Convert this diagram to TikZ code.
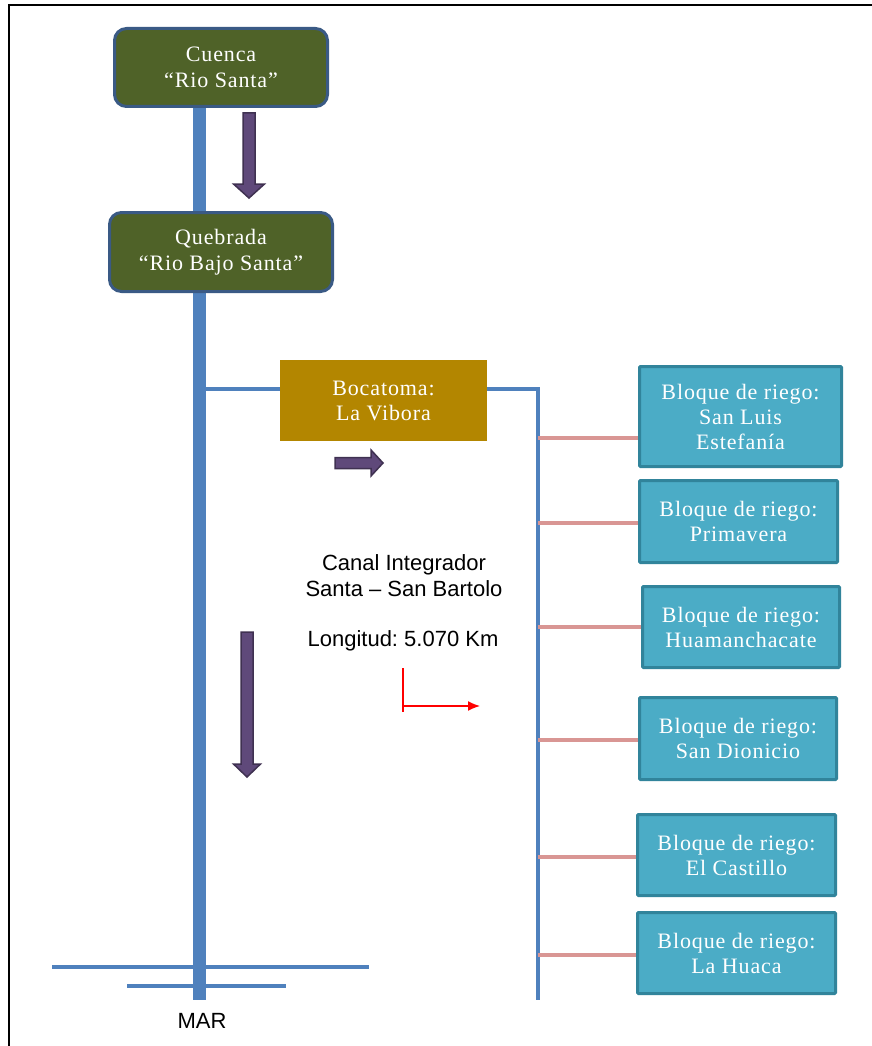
\documentclass[tikz,border=0pt]{standalone}
\usepackage{fontspec}
\usetikzlibrary{arrows.meta}
\setmainfont[LetterSpace=4]{Liberation Serif}
\newfontfamily\arialf{Liberation Sans}
\frenchspacing
\definecolor{greenfill}{HTML}{4F6228}
\definecolor{greenedge}{HTML}{3A5A85}
\definecolor{gold}{HTML}{B38600}
\definecolor{teal}{HTML}{4BACC6}
\definecolor{tealedge}{HTML}{31849B}
\definecolor{riverblue}{HTML}{4F81BD}
\definecolor{pinkline}{HTML}{D99694}
\definecolor{purplefill}{HTML}{5F497A}
\definecolor{purpleedge}{HTML}{3F3151}
\begin{document}
\begin{tikzpicture}[x=1pt,y=-1pt,
  greenbox/.style={draw=greenedge,line width=3pt,fill=greenfill,rounded corners=12pt,text=white,align=center,
    font=\fontsize{22}{26}\selectfont,inner sep=0pt},
  goldbox/.style={fill=gold,text=white,align=center,font=\fontsize{22}{25}\selectfont,inner sep=0pt},
  tealbox/.style={draw=tealedge,line width=3pt,fill=teal,text=white,align=center,
    font=\fontsize{22}{25}\selectfont,inner sep=0pt,rounded corners=1pt},
  mainline/.style={draw=riverblue,line width=13pt},
  thinline/.style={draw=riverblue,line width=3.5pt},
  branch/.style={draw=pinkline,line width=4pt},
  bkarrow/.style={draw=purpleedge,line width=1.5pt,fill=purplefill,line join=miter},
  sanslabel/.style={font=\arialf\fontsize{22}{26}\selectfont,align=center,inner sep=0pt}]
\useasboundingbox (0,0) rectangle (872,1046);
\fill[white] (0,0) rectangle (872,1046);
% frame
\draw[line width=2pt] (9,1046) -- (9,5) -- (872,5);

% coordinates
\coordinate (mainTop) at (199,108);
\coordinate (mainBot) at (199,1000);
\coordinate (tap) at (199,389);
\coordinate (canalTop) at (538,389);
\coordinate (canalBot) at (538,1000);
\coordinate (p1) at (538,438);
\coordinate (p2) at (538,523);
\coordinate (p3) at (538,627);
\coordinate (p4) at (538,740);
\coordinate (p5) at (538,857);
\coordinate (p6) at (538,955);

% main river
\draw[mainline] (mainTop) -- (mainBot);
% sea lines
\coordinate (sea1a) at (52,967);
\coordinate (sea1b) at (369,967);
\coordinate (sea2a) at (127,986);
\coordinate (sea2b) at (286,986);
\draw[thinline,line width=4pt] (sea1a) -- (sea1b);
\draw[thinline,line width=4pt] (sea2a) -- (sea2b);

% boxes
\node[greenbox,minimum width=213pt,minimum height=78pt] (cuenca) at (221,67.5) {Cuenca\\“Rio Santa”};
\node[greenbox,minimum width=223pt,minimum height=79pt] (quebrada) at (221,252) {Quebrada\\“Rio Bajo Santa”};
\node[goldbox,minimum width=207pt,minimum height=81pt] (boca) at (383.5,400.5) {Bocatoma:\\La Vibora};

\node[tealbox,minimum width=202pt,minimum height=100pt] (b1) at (740.5,416.5) {Bloque de riego:\\San Luis\\Estefanía};
\node[tealbox,minimum width=198pt,minimum height=82pt] (b2) at (738.5,521.5) {Bloque de riego:\\Primavera};
\node[tealbox,minimum width=197pt,minimum height=81pt] (b3) at (741,627) {Bloque de riego:\\Huamanchacate};
\node[tealbox,minimum width=197pt,minimum height=82pt] (b4) at (738,738.5) {Bloque de riego:\\San Dionicio};
\node[tealbox,minimum width=198pt,minimum height=81pt] (b5) at (736.5,855) {Bloque de riego:\\El Castillo};
\node[tealbox,minimum width=198pt,minimum height=81pt] (b6) at (736.5,953) {Bloque de riego:\\La Huaca};

% canal
\draw[thinline] (tap) -- (tap -| boca.west);
\draw[thinline,line join=miter] (boca.east |- canalTop) -- (canalTop) -- (canalBot);
\draw[branch] (p1) -- (p1 -| b1.west);
\draw[branch] (p2) -- (p2 -| b2.west);
\draw[branch] (p3) -- (p3 -| b3.west);
\draw[branch] (p4) -- (p4 -| b4.west);
\draw[branch] (p5) -- (p5 -| b5.west);
\draw[branch] (p6) -- (p6 -| b6.west);

% block arrows
\draw[bkarrow] (243,113) -- (255,113) -- (255,184) -- (264.5,184) -- (249,198) -- (233.5,184) -- (243,184) -- cycle;
\draw[bkarrow] (241,632) -- (253,632) -- (253,764) -- (260.5,764) -- (247,777) -- (233.5,764) -- (241,764) -- cycle;
\draw[bkarrow] (335,457.5) -- (371,457.5) -- (371,450) -- (383,463) -- (371,476) -- (371,468.5) -- (335,468.5) -- cycle;

% texts
\node[sanslabel] (canal) at (404,576) {Canal Integrador\\Santa – San Bartolo};
\node[sanslabel] (longitud) at (403,641) {Longitud: 5.070 Km};
\node[sanslabel] (mar) at (202,1021) {MAR};

% red arrow
\coordinate (rtop) at (403,668);
\coordinate (rbot) at (403,712);
\coordinate (rcorner) at (403,706);
\coordinate (rtip) at (480,706);
\draw[red,line width=1.5pt] (rtop) -- (rbot);
\draw[red,line width=1.5pt,-{Latex[length=12pt,width=10pt]}] (rcorner) -- (rtip);
\end{tikzpicture}
\end{document}
